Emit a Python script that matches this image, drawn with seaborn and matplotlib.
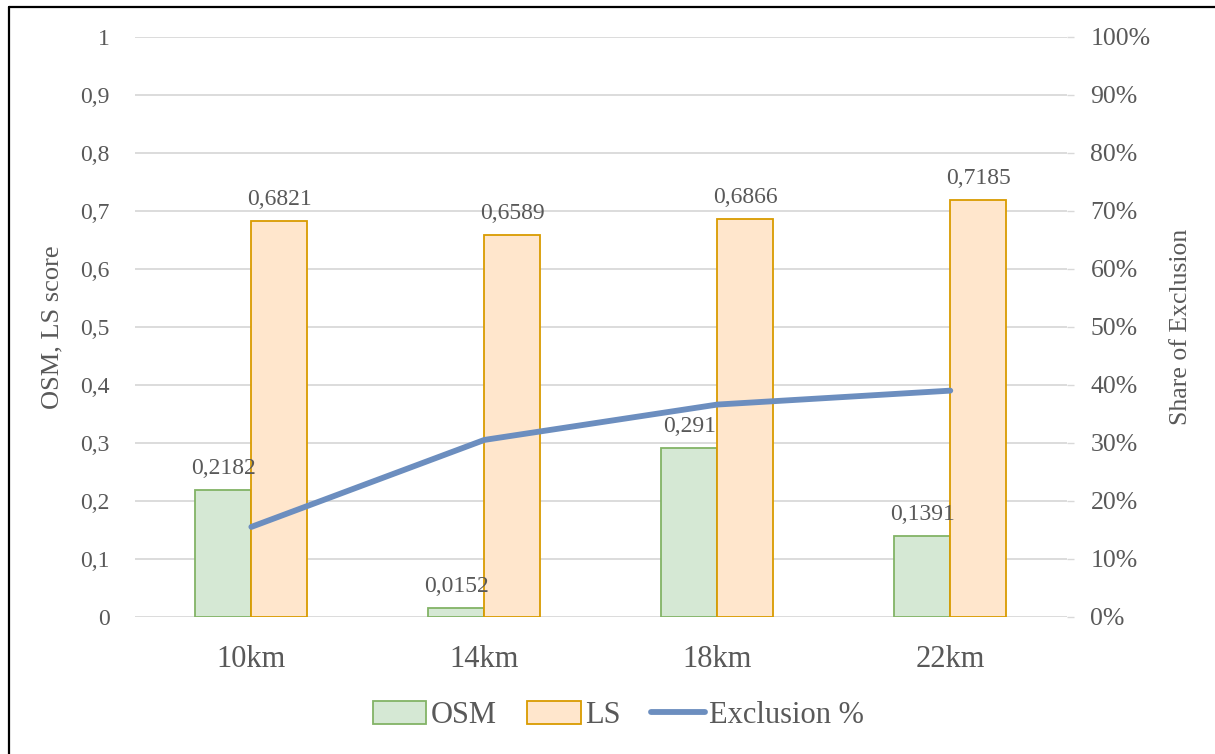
import matplotlib
matplotlib.use("Agg")
import matplotlib.pyplot as plt
from matplotlib.lines import Line2D
from matplotlib.patches import Patch
import numpy as np
import pandas as pd
import seaborn as sns

# Data
distances = ["10km", "14km", "18km", "22km"]
osm_scores = [0.2182, 0.0152, 0.291, 0.1391]
ls_scores = [0.6821, 0.6589, 0.6866, 0.7185]
exclusion_share = [0.155, 0.305, 0.366, 0.39]

left_ticks = [0, 0.1, 0.2, 0.3, 0.4, 0.5, 0.6, 0.7, 0.8, 0.9, 1.0]
right_ticks = [0, 0.1, 0.2, 0.3, 0.4, 0.5, 0.6, 0.7, 0.8, 0.9, 1.0]

sns.set_theme(style="white")
plt.rcParams["font.family"] = ["Liberation Serif", "DejaVu Serif"]
text_color = "#595959"
grid_color = "#d9d9d9"

osm_face, osm_edge = "#d5e8d4", "#82b366"
ls_face, ls_edge = "#ffe6cc", "#d99b00"
line_color = "#6c8ebf"

df = pd.DataFrame({
    "distance": distances * 2,
    "score": osm_scores + ls_scores,
    "series": ["OSM"] * len(distances) + ["LS"] * len(distances),
})

fig = plt.figure(figsize=(12.15, 7.54), dpi=100)
ax = fig.add_axes([0.111, 0.182, 0.767, 0.769])

sns.barplot(data=df, x="distance", y="score", hue="series",
            hue_order=["OSM", "LS"], palette=[osm_face, ls_face],
            width=0.48, gap=0, ax=ax, legend=False, saturation=1)

for container, edge, vals in zip(ax.containers, [osm_edge, ls_edge], [osm_scores, ls_scores]):
    for bar in container:
        bar.set_edgecolor(edge)
        bar.set_linewidth(1.3)
    ax.bar_label(container, labels=[str(v).replace(".", ",") for v in vals],
                 padding=8, fontsize=17, color=text_color)

ax.set_ylim(0, 1)
ax.set_xlim(-0.5, len(distances) - 0.5)
ax.set_yticks(left_ticks)
ax.set_yticklabels(["0" if t == 0 else ("1" if t == 1 else f"{t:.1f}".replace(".", ","))
                    for t in left_ticks])
ax.yaxis.grid(True, color=grid_color, linewidth=1.3)
ax.set_axisbelow(True)
for s in ax.spines.values():
    s.set_visible(False)
ax.tick_params(axis="y", length=0, pad=18, labelsize=17, labelcolor=text_color)
ax.tick_params(axis="x", length=0, pad=20, labelsize=22, labelcolor=text_color)
ax.set_xlabel("")
ax.set_ylabel("OSM, LS score", fontsize=19, color=text_color, labelpad=12)

ax2 = ax.twinx()
sns.lineplot(x=np.arange(len(distances)), y=exclusion_share, ax=ax2,
             color=line_color, linewidth=4.2, solid_capstyle="round")
ax2.set_ylim(0, 1)
ax2.set_yticks(right_ticks)
ax2.set_yticklabels([f"{int(round(t * 100))}%" for t in right_ticks])
for s in ax2.spines.values():
    s.set_visible(False)
ax2.tick_params(axis="y", length=5, width=1, color=grid_color, pad=12,
                labelsize=18.5, labelcolor=text_color)
ax2.set_ylabel("Share of Exclusion", fontsize=18.5, color=text_color, labelpad=14)

handles = [
    Patch(facecolor=osm_face, edgecolor=osm_edge, linewidth=1.3, label="OSM"),
    Patch(facecolor=ls_face, edgecolor=ls_edge, linewidth=1.3, label="LS"),
    Line2D([0], [0], color=line_color, linewidth=4.2, solid_capstyle="round", label="Exclusion %"),
]
fig.legend(handles=handles, loc="center", bbox_to_anchor=(0.509, 0.051), ncol=3,
           frameon=False, fontsize=22, labelcolor=text_color,
           handlelength=1.75, handleheight=0.75, handletextpad=0.15, columnspacing=1.0)

# Outer frame on the left and top edges
fig.add_artist(Line2D([9 / 1215, 9 / 1215], [0, 1 - 7 / 754], transform=fig.transFigure,
                      color="black", linewidth=1.6))
fig.add_artist(Line2D([9 / 1215, 1], [1 - 7 / 754, 1 - 7 / 754], transform=fig.transFigure,
                      color="black", linewidth=1.6))

fig.savefig("out.png", dpi=100)
